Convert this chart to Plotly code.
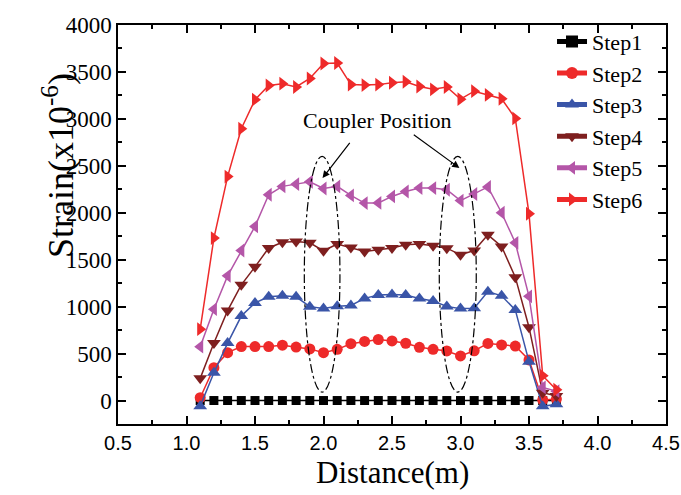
import plotly.graph_objects as go

distance = [1.1, 1.2, 1.3, 1.4, 1.5, 1.6, 1.7, 1.8, 1.9, 2.0, 2.1, 2.2, 2.3, 2.4,
            2.5, 2.6, 2.7, 2.8, 2.9, 3.0, 3.1, 3.2, 3.3, 3.4, 3.5, 3.6, 3.7]

step1 = [0, 0, 0, 0, 0, 0, 0, 0, 0, 0, 0, 0, 0, 0,
         0, 0, 0, 0, 0, 0, 0, 0, 0, 0, 0, 0, 0]
step2 = [30, 350, 510, 575, 575, 575, 590, 570, 550, 510, 545, 605, 630, 650,
         635, 610, 567, 546, 528, 475, 530, 608, 592, 580, 432, 5, 15]
step3 = [-60, 295, 612, 900, 1040, 1105, 1115, 1105, 1000, 980, 1005, 1012, 1088, 1123,
         1130, 1125, 1086, 1061, 1001, 979, 983, 1160, 1115, 965, 414, -62, -40]
step4 = [236, 612, 958, 1232, 1424, 1625, 1685, 1695, 1680, 1595, 1666, 1630, 1588, 1605,
         1625, 1660, 1666, 1648, 1623, 1552, 1598, 1765, 1641, 1314, 781, 83, 48]
step5 = [574, 973, 1328, 1598, 1855, 2192, 2281, 2305, 2330, 2258, 2281, 2185, 2103, 2105,
         2174, 2227, 2263, 2263, 2245, 2130, 2200, 2275, 2000, 1680, 1110, 140, 100]
step6 = [760, 1730, 2385, 2895, 3205, 3355, 3375, 3340, 3430, 3590, 3595, 3365, 3360, 3365,
         3385, 3395, 3345, 3315, 3340, 3210, 3295, 3255, 3215, 3005, 1990, 265, 115]

series_names = ["Step1", "Step2", "Step3", "Step4", "Step5", "Step6"]
series_values = [step1, step2, step3, step4, step5, step6]
colors = ["#000000", "#EE2A2A", "#3A55A8", "#7E1F1F", "#B456A8", "#EE2A2A"]
symbols = ["square", "circle", "triangle-up", "triangle-down", "triangle-left", "triangle-right"]
sizes = [9, 11, 12, 12, 12, 12]

x_ticks = [0.5, 1.0, 1.5, 2.0, 2.5, 3.0, 3.5, 4.0, 4.5]
y_ticks = [0, 500, 1000, 1500, 2000, 2500, 3000, 3500, 4000]

SERIF = '"Liberation Serif", "Times New Roman", Times, serif'
SANS = '"Liberation Sans", Arial, Helvetica, sans-serif'

fig = go.Figure()
for name, vals, c, s, sz in zip(series_names, series_values, colors, symbols, sizes):
    fig.add_trace(go.Scatter(
        x=distance, y=vals, name=name, mode="lines+markers",
        line=dict(color=c, width=1.5),
        marker=dict(symbol=s, size=sz, color=c, line=dict(width=0)),
    ))

# coupler ellipses
for cx, hw in [(1.99, 0.13), (2.98, 0.135)]:
    fig.add_shape(type="circle", xref="x", yref="y",
                  x0=cx - hw, x1=cx + hw, y0=90, y1=2600,
                  line=dict(color="black", width=1.2, dash="dashdot"))

fig.add_annotation(x=2.394, y=2985, xref="x", yref="y", text="Coupler Position",
                   showarrow=False, font=dict(family=SERIF, size=22, color="black"))
fig.add_annotation(x=1.993, y=2370, ax=2.2, ay=2761, xref="x", yref="y",
                   axref="x", ayref="y", text="", showarrow=True,
                   arrowhead=2, arrowsize=1.2, arrowwidth=1.2, arrowcolor="black")
fig.add_annotation(x=2.992, y=2477, ax=2.648, ay=2843, xref="x", yref="y",
                   axref="x", ayref="y", text="", showarrow=True,
                   arrowhead=2, arrowsize=1.2, arrowwidth=1.2, arrowcolor="black")

# axis titles
fig.add_annotation(x=-0.152, y=0.647, xref="paper", yref="paper",
                   text="Strain(x10<sup>-6</sup>)", textangle=-90, showarrow=False,
                   font=dict(family=SERIF, size=36, color="black"))
fig.add_annotation(x=0.5, y=-0.122, xref="paper", yref="paper", yanchor="middle",
                   text="Distance(m)", showarrow=False,
                   font=dict(family=SERIF, size=31, color="black"))

fig.update_xaxes(range=[0.5, 4.5], tickvals=x_ticks, ticktext=[f"{v:.1f}" for v in x_ticks],
                 showline=True, linecolor="black", linewidth=1.5, mirror="allticks",
                 ticks="inside", ticklen=8, tickwidth=1.5, tickcolor="black",
                 minor=dict(dtick=0.25, ticks="inside", ticklen=4, tickwidth=1.5, tickcolor="black"),
                 showgrid=False, zeroline=False, ticklabeloverflow="allow", automargin=False,
                 tickfont=dict(family=SANS, size=20, color="black"))
fig.update_yaxes(range=[-250, 4000], tickvals=y_ticks,
                 showline=True, linecolor="black", linewidth=1.5, mirror="allticks",
                 ticks="inside", ticklen=8, tickwidth=1.5, tickcolor="black",
                 minor=dict(dtick=250, ticks="inside", ticklen=4, tickwidth=1.5, tickcolor="black"),
                 showgrid=False, zeroline=False, automargin=False,
                 tickfont=dict(family=SERIF, size=23, color="black"))

fig.update_layout(
    width=681, height=495,
    font=dict(family=SERIF, color="black"),
    margin=dict(l=118, r=15, t=25, b=71, autoexpand=False),
    plot_bgcolor="white", paper_bgcolor="white",
    legend=dict(x=0.792, y=1.011, xanchor="left", yanchor="top",
                bgcolor="rgba(0,0,0,0)", font=dict(family=SERIF, size=22, color="black"),
                tracegroupgap=0, itemsizing="constant"),
)

fig.write_html("out.html")
